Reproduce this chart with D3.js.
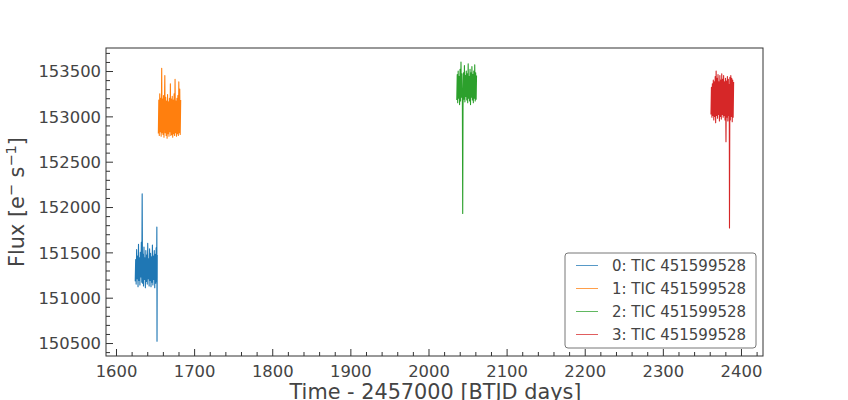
<!DOCTYPE html>
<html><head><meta charset="utf-8">
<script src="https://cdn.jsdelivr.net/npm/d3@7"></script>
<style>body{margin:0;background:#fff}svg{display:block;font-family:"DejaVu Sans",sans-serif}</style>
</head><body>
<svg id="c" width="848" height="400"></svg>
<script>
const seriesLabels = ["0: TIC 451599528","1: TIC 451599528","2: TIC 451599528","3: TIC 451599528"];
const seriesColors = ["#1f77b4","#ff7f0e","#2ca02c","#d62728"];
const xTicks = [1600,1700,1800,1900,2000,2100,2200,2300,2400];
const yTicks = [150500,151000,151500,152000,152500,153000,153500];

const time0 = [1624.6,1625.2,1625.8,1626.4,1627.0,1627.6,1628.2,1628.8,1629.4,1630.0,1630.6,1631.2,1631.8,1632.4,1633.0,1633.5,1634.0,1634.6,1635.2,1635.8,1636.4,1637.0,1637.6,1638.2,1638.8,1639.4,1640.0,1640.6,1641.2,1641.8,1642.4,1643.0,1643.6,1644.2,1644.8,1645.4,1646.0,1646.6,1647.2,1647.8,1648.4,1649.0,1649.6,1650.2,1650.8,1651.4,1651.9,1652.3,1652.5,1652.8];
const flux0 = [151180,151420,151150,151530,151210,151460,151120,151590,151190,151440,151140,151500,151230,151610,151170,152145,151160,151480,151130,151560,151200,151440,151110,151520,151180,151470,151150,151600,151210,151430,151130,151540,151190,151490,151120,151450,151170,151580,151140,151460,151200,151520,151110,151480,151160,151550,151180,151780,150520,151470];

const time1 = [1654.2,1654.8,1655.4,1656.0,1656.6,1657.2,1657.8,1658.5,1659.0,1659.6,1660.2,1660.8,1661.4,1662.0,1662.5,1663.0,1663.6,1664.2,1664.8,1665.4,1666.0,1666.6,1667.2,1667.8,1668.4,1669.0,1669.6,1670.2,1670.8,1671.4,1672.0,1672.6,1673.2,1673.8,1674.4,1675.0,1675.6,1676.2,1676.8,1677.4,1678.0,1678.6,1679.2,1679.8,1680.4,1681.0,1681.6,1682.2,1682.8];
const flux1 = [152810,153180,152790,153250,152830,153200,152780,153530,152820,153190,152800,153230,152770,153150,153450,152820,153210,152790,153170,152760,153240,152810,153160,152780,153200,152830,153360,152790,153190,152800,153220,152770,153180,152810,153250,152790,153410,152820,153170,152780,153200,152810,153230,152790,153380,152820,153300,152800,153180];

const time2 = [2036.2,2036.8,2037.4,2038.0,2038.6,2039.2,2039.8,2040.4,2041.0,2041.6,2042.2,2042.8,2043.4,2043.8,2044.2,2044.8,2045.4,2046.0,2046.6,2047.2,2047.8,2048.4,2049.0,2049.6,2050.2,2050.8,2051.4,2052.0,2052.6,2053.2,2053.8,2054.4,2055.0,2055.6,2056.2,2056.8,2057.4,2058.0,2058.6,2059.2,2059.8,2060.4,2061.0,2061.5];
const flux2 = [153180,153460,153150,153500,153200,153440,153130,153520,153170,153600,153210,153470,153140,151930,153100,153480,153190,153560,153160,153450,153220,153500,153180,153470,153150,153580,153200,153440,153170,153520,153130,153480,153210,153550,153180,153460,153150,153500,153200,153570,153170,153480,153190,153450];

const time3 = [2361.6,2362.2,2362.8,2363.4,2364.0,2364.6,2365.2,2365.8,2366.4,2367.0,2367.6,2368.2,2368.8,2369.4,2370.0,2370.6,2371.2,2371.8,2372.4,2373.0,2373.6,2374.2,2374.8,2375.4,2376.0,2376.6,2377.2,2377.8,2378.4,2379.0,2379.6,2380.2,2380.8,2381.4,2382.0,2382.6,2383.2,2383.8,2384.4,2385.0,2385.3,2385.8,2386.4,2387.0,2387.6,2388.2,2388.8,2389.4,2390.0,2390.6];
const flux3 = [153020,153320,152990,153360,153010,153400,152960,153380,153000,153440,152930,153500,153010,153420,152980,153460,153020,153380,152950,153450,153000,153400,152970,153470,153020,153410,152990,153450,153010,153380,152960,153420,152720,153390,152990,153440,152950,153410,153010,153350,151770,153430,152960,153450,153000,153420,152940,153400,152990,153380];

const times = [time0,time1,time2,time3];
const fluxes = [flux0,flux1,flux2,flux3];

const svg = d3.select("#c");
const L=106, R=763, T=48, B=356;
const x = d3.scaleLinear().domain([1587.2,2428.2]).range([L,R]);
const y = d3.scaleLinear().domain([150357,153754]).range([B,T]);
const textCol = "#444", spineCol = "#333";

const g = svg.append("g");
const line = d3.line().x(d=>x(d[0])).y(d=>y(d[1]));
times.forEach((t,i)=>{
  const pts = t.map((v,j)=>[v,fluxes[i][j]]);
  g.append("path").attr("d",line(pts)).attr("fill","none")
   .attr("stroke",seriesColors[i]).attr("stroke-width",1.1).attr("stroke-linejoin","round");
});

// frame
svg.append("rect").attr("x",L).attr("y",T).attr("width",R-L).attr("height",B-T)
  .attr("fill","none").attr("stroke",spineCol).attr("stroke-width",1);

// x axis
const xMinor = d3.range(1600,2428,20).filter(v=>v%100!==0);
const xa = svg.append("g").attr("transform",`translate(0,${B})`)
  .call(d3.axisBottom(x).tickValues(xTicks).tickSize(-7).tickPadding(8).tickFormat(d3.format("d")));
const xm = svg.append("g").attr("transform",`translate(0,${B})`)
  .call(d3.axisBottom(x).tickValues(xMinor).tickSize(-4).tickFormat(""));
// y axis
const yMinor = d3.range(150400,153754,100).filter(v=>v%500!==0);
const ya = svg.append("g").attr("transform",`translate(${L},0)`)
  .call(d3.axisLeft(y).tickValues(yTicks).tickSize(-7).tickPadding(6).tickFormat(d3.format("d")));
const ym = svg.append("g").attr("transform",`translate(${L},0)`)
  .call(d3.axisLeft(y).tickValues(yMinor).tickSize(-4).tickFormat(""));
[xa,xm,ya,ym].forEach(a=>{
  a.select(".domain").remove();
  a.selectAll(".tick line").attr("stroke",spineCol);
  a.selectAll("text").attr("fill",textCol).attr("font-size",16.4).attr("font-family","DejaVu Sans");
});
ya.selectAll("text").attr("x",-5).attr("dy","0.36em");
xa.selectAll("text").attr("y",8).attr("dy","0.8em");

// axis labels
svg.append("text").attr("x",(L+R)/2 + 1).attr("y",398.5).attr("text-anchor","middle")
  .attr("fill",textCol).attr("font-size",20.8).text("Time - 2457000 [BTJD days]");
const yl = svg.append("text").attr("transform",`translate(24,${(T+B)/2}) rotate(-90)`)
  .attr("text-anchor","middle").attr("fill",textCol).attr("font-size",20.8);
yl.append("tspan").text("Flux [e");
yl.append("tspan").attr("font-size",14.5).attr("dy",-8).text("−");
yl.append("tspan").attr("dy",8).text(" s");
yl.append("tspan").attr("font-size",14.5).attr("dy",-8).text("−1");
yl.append("tspan").attr("dy",8).text("]");

// legend
const lg = svg.append("g").attr("transform","translate(565,253)");
lg.append("rect").attr("width",191).attr("height",95).attr("rx",3)
  .attr("fill","#fff").attr("fill-opacity",0.8).attr("stroke","#777").attr("stroke-width",1);
seriesLabels.forEach((s,i)=>{
  const yy = 12.5 + i*23;
  lg.append("line").attr("x1",11).attr("x2",33).attr("y1",yy).attr("y2",yy)
    .attr("stroke",seriesColors[i]).attr("stroke-width",1).attr("stroke-opacity",0.75);
  lg.append("text").attr("x",47).attr("y",yy).attr("dy","0.36em").attr("fill",textCol)
    .attr("font-size",15).text(s);
});
</script>
</body></html>
